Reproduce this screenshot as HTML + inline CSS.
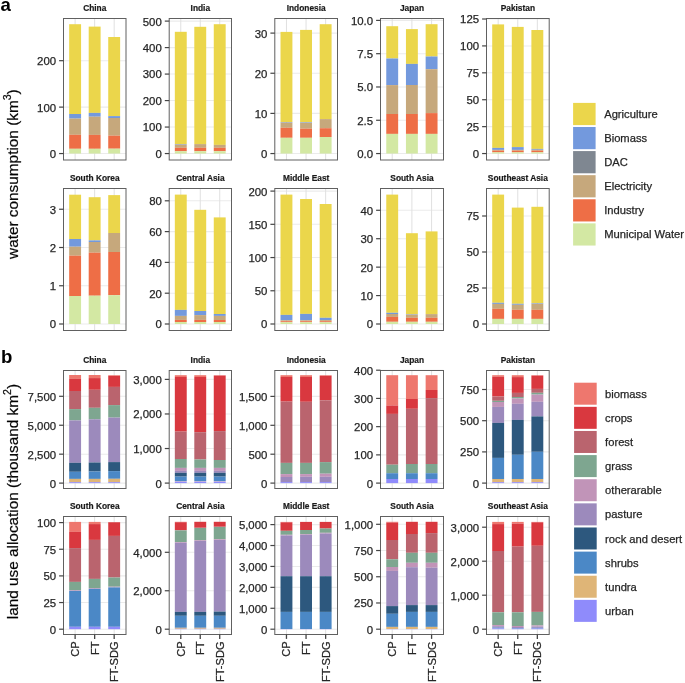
<!DOCTYPE html>
<html><head><meta charset="utf-8"><title>chart</title>
<style>
html,body{margin:0;padding:0;background:#fff;}
body{width:685px;height:683px;overflow:hidden;}
svg{display:block;will-change:transform;}
text{font-family:"Liberation Sans",sans-serif;}
.tk,.xl,.lg,.at{stroke:#262626;stroke-width:0.25px;}
.tt{stroke:#1A1A1A;stroke-width:0.2px;}
.tk{font-size:11.4px;fill:#262626;text-anchor:end;}
.tt{font-size:8.35px;font-weight:bold;fill:#1A1A1A;text-anchor:middle;}
.xl{font-size:11.1px;fill:#262626;text-anchor:end;}
.lg{font-size:11.2px;fill:#262626;}
.pl{font-size:18.6px;font-weight:bold;fill:#000;}
.at{font-size:15.35px;fill:#000;text-anchor:middle;}
.sup{font-size:10.6px;}
</style></head>
<body>
<svg width="685" height="683" viewBox="0 0 685 683">
<rect width="685" height="683" fill="#fff"/>
<line x1="63.5" y1="153.55" x2="126" y2="153.55" stroke="#EBEBEB" stroke-width="1.07"/>
<line x1="63.5" y1="107.12" x2="126" y2="107.12" stroke="#EBEBEB" stroke-width="1.07"/>
<line x1="63.5" y1="60.69" x2="126" y2="60.69" stroke="#EBEBEB" stroke-width="1.07"/>
<line x1="75.12" y1="18.5" x2="75.12" y2="160" stroke="#E0E0E0" stroke-width="1"/>
<line x1="94.65" y1="18.5" x2="94.65" y2="160" stroke="#E0E0E0" stroke-width="1"/>
<line x1="114.18" y1="18.5" x2="114.18" y2="160" stroke="#E0E0E0" stroke-width="1"/>
<rect x="69.17" y="24.2" width="11.9" height="89.8" fill="#EBD64B"/>
<rect x="69.17" y="114" width="11.9" height="4.6" fill="#7399DD"/>
<rect x="69.17" y="118.6" width="11.9" height="16.2" fill="#C6A87C"/>
<rect x="69.17" y="134.8" width="11.9" height="14" fill="#EE6E46"/>
<rect x="69.17" y="148.8" width="11.9" height="4.75" fill="#D3E8A3"/>
<rect x="88.7" y="26.6" width="11.9" height="86.3" fill="#EBD64B"/>
<rect x="88.7" y="112.9" width="11.9" height="3.8" fill="#7399DD"/>
<rect x="88.7" y="116.7" width="11.9" height="18.2" fill="#C6A87C"/>
<rect x="88.7" y="134.9" width="11.9" height="13.9" fill="#EE6E46"/>
<rect x="88.7" y="148.8" width="11.9" height="4.75" fill="#D3E8A3"/>
<rect x="108.23" y="37" width="11.9" height="79.1" fill="#EBD64B"/>
<rect x="108.23" y="116.1" width="11.9" height="1.9" fill="#7399DD"/>
<rect x="108.23" y="118" width="11.9" height="17.7" fill="#C6A87C"/>
<rect x="108.23" y="135.7" width="11.9" height="13" fill="#EE6E46"/>
<rect x="108.23" y="148.7" width="11.9" height="4.85" fill="#D3E8A3"/>
<rect x="63.5" y="18.5" width="62.5" height="141.5" fill="none" stroke="#606060" stroke-width="1.0"/>
<line x1="59.1" y1="153.55" x2="63.5" y2="153.55" stroke="#444444" stroke-width="1.2"/>
<text x="56.1" y="157.95" class="tk">0</text>
<line x1="59.1" y1="107.12" x2="63.5" y2="107.12" stroke="#444444" stroke-width="1.2"/>
<text x="56.1" y="111.52" class="tk">100</text>
<line x1="59.1" y1="60.69" x2="63.5" y2="60.69" stroke="#444444" stroke-width="1.2"/>
<text x="56.1" y="65.09" class="tk">200</text>
<text x="94.75" y="11" class="tt">China</text>
<line x1="169.2" y1="153.55" x2="231.5" y2="153.55" stroke="#EBEBEB" stroke-width="1.07"/>
<line x1="169.2" y1="127.06" x2="231.5" y2="127.06" stroke="#EBEBEB" stroke-width="1.07"/>
<line x1="169.2" y1="100.57" x2="231.5" y2="100.57" stroke="#EBEBEB" stroke-width="1.07"/>
<line x1="169.2" y1="74.08" x2="231.5" y2="74.08" stroke="#EBEBEB" stroke-width="1.07"/>
<line x1="169.2" y1="47.59" x2="231.5" y2="47.59" stroke="#EBEBEB" stroke-width="1.07"/>
<line x1="169.2" y1="21.1" x2="231.5" y2="21.1" stroke="#EBEBEB" stroke-width="1.07"/>
<line x1="180.78" y1="18.5" x2="180.78" y2="160" stroke="#E0E0E0" stroke-width="1"/>
<line x1="200.25" y1="18.5" x2="200.25" y2="160" stroke="#E0E0E0" stroke-width="1"/>
<line x1="219.72" y1="18.5" x2="219.72" y2="160" stroke="#E0E0E0" stroke-width="1"/>
<rect x="174.83" y="31.8" width="11.9" height="112.2" fill="#EBD64B"/>
<rect x="174.83" y="144" width="11.9" height="0.6" fill="#7399DD"/>
<rect x="174.83" y="144.6" width="11.9" height="3.2" fill="#C6A87C"/>
<rect x="174.83" y="147.8" width="11.9" height="3.4" fill="#EE6E46"/>
<rect x="174.83" y="151.2" width="11.9" height="2.35" fill="#D3E8A3"/>
<rect x="194.3" y="26.8" width="11.9" height="117.3" fill="#EBD64B"/>
<rect x="194.3" y="144.1" width="11.9" height="3.7" fill="#C6A87C"/>
<rect x="194.3" y="147.8" width="11.9" height="3.4" fill="#EE6E46"/>
<rect x="194.3" y="151.2" width="11.9" height="2.35" fill="#D3E8A3"/>
<rect x="213.77" y="24.2" width="11.9" height="120.7" fill="#EBD64B"/>
<rect x="213.77" y="144.9" width="11.9" height="2.9" fill="#C6A87C"/>
<rect x="213.77" y="147.8" width="11.9" height="3.4" fill="#EE6E46"/>
<rect x="213.77" y="151.2" width="11.9" height="2.35" fill="#D3E8A3"/>
<rect x="169.2" y="18.5" width="62.3" height="141.5" fill="none" stroke="#606060" stroke-width="1.0"/>
<line x1="164.8" y1="153.55" x2="169.2" y2="153.55" stroke="#444444" stroke-width="1.2"/>
<text x="161.8" y="157.95" class="tk">0</text>
<line x1="164.8" y1="127.06" x2="169.2" y2="127.06" stroke="#444444" stroke-width="1.2"/>
<text x="161.8" y="131.46" class="tk">100</text>
<line x1="164.8" y1="100.57" x2="169.2" y2="100.57" stroke="#444444" stroke-width="1.2"/>
<text x="161.8" y="104.97" class="tk">200</text>
<line x1="164.8" y1="74.08" x2="169.2" y2="74.08" stroke="#444444" stroke-width="1.2"/>
<text x="161.8" y="78.48" class="tk">300</text>
<line x1="164.8" y1="47.59" x2="169.2" y2="47.59" stroke="#444444" stroke-width="1.2"/>
<text x="161.8" y="51.99" class="tk">400</text>
<line x1="164.8" y1="21.1" x2="169.2" y2="21.1" stroke="#444444" stroke-width="1.2"/>
<text x="161.8" y="25.5" class="tk">500</text>
<text x="200.35" y="11" class="tt">India</text>
<line x1="274.8" y1="153.55" x2="337.5" y2="153.55" stroke="#EBEBEB" stroke-width="1.07"/>
<line x1="274.8" y1="113.4" x2="337.5" y2="113.4" stroke="#EBEBEB" stroke-width="1.07"/>
<line x1="274.8" y1="73.25" x2="337.5" y2="73.25" stroke="#EBEBEB" stroke-width="1.07"/>
<line x1="274.8" y1="33.1" x2="337.5" y2="33.1" stroke="#EBEBEB" stroke-width="1.07"/>
<line x1="286.46" y1="18.5" x2="286.46" y2="160" stroke="#E0E0E0" stroke-width="1"/>
<line x1="306.05" y1="18.5" x2="306.05" y2="160" stroke="#E0E0E0" stroke-width="1"/>
<line x1="325.64" y1="18.5" x2="325.64" y2="160" stroke="#E0E0E0" stroke-width="1"/>
<rect x="280.51" y="31.9" width="11.9" height="90.1" fill="#EBD64B"/>
<rect x="280.51" y="122" width="11.9" height="0.6" fill="#7399DD"/>
<rect x="280.51" y="122.6" width="11.9" height="5.2" fill="#C6A87C"/>
<rect x="280.51" y="127.8" width="11.9" height="10" fill="#EE6E46"/>
<rect x="280.51" y="137.8" width="11.9" height="15.75" fill="#D3E8A3"/>
<rect x="300.1" y="29.9" width="11.9" height="92.3" fill="#EBD64B"/>
<rect x="300.1" y="122.2" width="11.9" height="0.6" fill="#7399DD"/>
<rect x="300.1" y="122.8" width="11.9" height="5.9" fill="#C6A87C"/>
<rect x="300.1" y="128.7" width="11.9" height="9.1" fill="#EE6E46"/>
<rect x="300.1" y="137.8" width="11.9" height="15.75" fill="#D3E8A3"/>
<rect x="319.69" y="24.2" width="11.9" height="94.9" fill="#EBD64B"/>
<rect x="319.69" y="119.1" width="11.9" height="9.1" fill="#C6A87C"/>
<rect x="319.69" y="128.2" width="11.9" height="8.8" fill="#EE6E46"/>
<rect x="319.69" y="137" width="11.9" height="16.55" fill="#D3E8A3"/>
<rect x="274.8" y="18.5" width="62.7" height="141.5" fill="none" stroke="#606060" stroke-width="1.0"/>
<line x1="270.4" y1="153.55" x2="274.8" y2="153.55" stroke="#444444" stroke-width="1.2"/>
<text x="267.4" y="157.95" class="tk">0</text>
<line x1="270.4" y1="113.4" x2="274.8" y2="113.4" stroke="#444444" stroke-width="1.2"/>
<text x="267.4" y="117.8" class="tk">10</text>
<line x1="270.4" y1="73.25" x2="274.8" y2="73.25" stroke="#444444" stroke-width="1.2"/>
<text x="267.4" y="77.65" class="tk">20</text>
<line x1="270.4" y1="33.1" x2="274.8" y2="33.1" stroke="#444444" stroke-width="1.2"/>
<text x="267.4" y="37.5" class="tk">30</text>
<text x="306.15" y="11" class="tt">Indonesia</text>
<line x1="380.5" y1="153.55" x2="443.5" y2="153.55" stroke="#EBEBEB" stroke-width="1.07"/>
<line x1="380.5" y1="120.26" x2="443.5" y2="120.26" stroke="#EBEBEB" stroke-width="1.07"/>
<line x1="380.5" y1="86.98" x2="443.5" y2="86.98" stroke="#EBEBEB" stroke-width="1.07"/>
<line x1="380.5" y1="53.69" x2="443.5" y2="53.69" stroke="#EBEBEB" stroke-width="1.07"/>
<line x1="380.5" y1="20.4" x2="443.5" y2="20.4" stroke="#EBEBEB" stroke-width="1.07"/>
<line x1="392.21" y1="18.5" x2="392.21" y2="160" stroke="#E0E0E0" stroke-width="1"/>
<line x1="411.9" y1="18.5" x2="411.9" y2="160" stroke="#E0E0E0" stroke-width="1"/>
<line x1="431.59" y1="18.5" x2="431.59" y2="160" stroke="#E0E0E0" stroke-width="1"/>
<rect x="386.26" y="26.2" width="11.9" height="32.3" fill="#EBD64B"/>
<rect x="386.26" y="58.5" width="11.9" height="26.6" fill="#7399DD"/>
<rect x="386.26" y="85.1" width="11.9" height="28.9" fill="#C6A87C"/>
<rect x="386.26" y="114" width="11.9" height="19.9" fill="#EE6E46"/>
<rect x="386.26" y="133.9" width="11.9" height="19.65" fill="#D3E8A3"/>
<rect x="405.95" y="29.1" width="11.9" height="34.8" fill="#EBD64B"/>
<rect x="405.95" y="63.9" width="11.9" height="21.1" fill="#7399DD"/>
<rect x="405.95" y="85" width="11.9" height="29" fill="#C6A87C"/>
<rect x="405.95" y="114" width="11.9" height="19.9" fill="#EE6E46"/>
<rect x="405.95" y="133.9" width="11.9" height="19.65" fill="#D3E8A3"/>
<rect x="425.64" y="24.2" width="11.9" height="32.3" fill="#EBD64B"/>
<rect x="425.64" y="56.5" width="11.9" height="12.7" fill="#7399DD"/>
<rect x="425.64" y="69.2" width="11.9" height="43.9" fill="#C6A87C"/>
<rect x="425.64" y="113.1" width="11.9" height="20.8" fill="#EE6E46"/>
<rect x="425.64" y="133.9" width="11.9" height="19.65" fill="#D3E8A3"/>
<rect x="380.5" y="18.5" width="63" height="141.5" fill="none" stroke="#606060" stroke-width="1.0"/>
<line x1="376.1" y1="153.55" x2="380.5" y2="153.55" stroke="#444444" stroke-width="1.2"/>
<text x="373.1" y="157.95" class="tk">0.0</text>
<line x1="376.1" y1="120.26" x2="380.5" y2="120.26" stroke="#444444" stroke-width="1.2"/>
<text x="373.1" y="124.66" class="tk">2.5</text>
<line x1="376.1" y1="86.98" x2="380.5" y2="86.98" stroke="#444444" stroke-width="1.2"/>
<text x="373.1" y="91.38" class="tk">5.0</text>
<line x1="376.1" y1="53.69" x2="380.5" y2="53.69" stroke="#444444" stroke-width="1.2"/>
<text x="373.1" y="58.09" class="tk">7.5</text>
<line x1="376.1" y1="20.4" x2="380.5" y2="20.4" stroke="#444444" stroke-width="1.2"/>
<text x="373.1" y="24.8" class="tk">10.0</text>
<text x="412" y="11" class="tt">Japan</text>
<line x1="486.5" y1="153.55" x2="549.2" y2="153.55" stroke="#EBEBEB" stroke-width="1.07"/>
<line x1="486.5" y1="126.64" x2="549.2" y2="126.64" stroke="#EBEBEB" stroke-width="1.07"/>
<line x1="486.5" y1="99.73" x2="549.2" y2="99.73" stroke="#EBEBEB" stroke-width="1.07"/>
<line x1="486.5" y1="72.82" x2="549.2" y2="72.82" stroke="#EBEBEB" stroke-width="1.07"/>
<line x1="486.5" y1="45.91" x2="549.2" y2="45.91" stroke="#EBEBEB" stroke-width="1.07"/>
<line x1="486.5" y1="19" x2="549.2" y2="19" stroke="#EBEBEB" stroke-width="1.07"/>
<line x1="498.16" y1="18.5" x2="498.16" y2="160" stroke="#E0E0E0" stroke-width="1"/>
<line x1="517.75" y1="18.5" x2="517.75" y2="160" stroke="#E0E0E0" stroke-width="1"/>
<line x1="537.34" y1="18.5" x2="537.34" y2="160" stroke="#E0E0E0" stroke-width="1"/>
<rect x="492.21" y="24.4" width="11.9" height="123.5" fill="#EBD64B"/>
<rect x="492.21" y="147.9" width="11.9" height="2" fill="#7399DD"/>
<rect x="492.21" y="149.9" width="11.9" height="0.8" fill="#C6A87C"/>
<rect x="492.21" y="150.7" width="11.9" height="1.6" fill="#EE6E46"/>
<rect x="492.21" y="152.3" width="11.9" height="1.25" fill="#D3E8A3"/>
<rect x="511.8" y="26.9" width="11.9" height="120.2" fill="#EBD64B"/>
<rect x="511.8" y="147.1" width="11.9" height="2.8" fill="#7399DD"/>
<rect x="511.8" y="149.9" width="11.9" height="0.8" fill="#C6A87C"/>
<rect x="511.8" y="150.7" width="11.9" height="1.6" fill="#EE6E46"/>
<rect x="511.8" y="152.3" width="11.9" height="1.25" fill="#D3E8A3"/>
<rect x="531.39" y="30" width="11.9" height="118.9" fill="#EBD64B"/>
<rect x="531.39" y="148.9" width="11.9" height="0.9" fill="#7399DD"/>
<rect x="531.39" y="149.8" width="11.9" height="0.9" fill="#C6A87C"/>
<rect x="531.39" y="150.7" width="11.9" height="1.6" fill="#EE6E46"/>
<rect x="531.39" y="152.3" width="11.9" height="1.25" fill="#D3E8A3"/>
<rect x="486.5" y="18.5" width="62.7" height="141.5" fill="none" stroke="#606060" stroke-width="1.0"/>
<line x1="482.1" y1="153.55" x2="486.5" y2="153.55" stroke="#444444" stroke-width="1.2"/>
<text x="479.1" y="157.95" class="tk">0</text>
<line x1="482.1" y1="126.64" x2="486.5" y2="126.64" stroke="#444444" stroke-width="1.2"/>
<text x="479.1" y="131.04" class="tk">25</text>
<line x1="482.1" y1="99.73" x2="486.5" y2="99.73" stroke="#444444" stroke-width="1.2"/>
<text x="479.1" y="104.13" class="tk">50</text>
<line x1="482.1" y1="72.82" x2="486.5" y2="72.82" stroke="#444444" stroke-width="1.2"/>
<text x="479.1" y="77.22" class="tk">75</text>
<line x1="482.1" y1="45.91" x2="486.5" y2="45.91" stroke="#444444" stroke-width="1.2"/>
<text x="479.1" y="50.31" class="tk">100</text>
<line x1="482.1" y1="19" x2="486.5" y2="19" stroke="#444444" stroke-width="1.2"/>
<text x="479.1" y="23.4" class="tk">125</text>
<text x="517.85" y="11" class="tt">Pakistan</text>
<line x1="63.5" y1="324" x2="126" y2="324" stroke="#EBEBEB" stroke-width="1.07"/>
<line x1="63.5" y1="285.75" x2="126" y2="285.75" stroke="#EBEBEB" stroke-width="1.07"/>
<line x1="63.5" y1="247.5" x2="126" y2="247.5" stroke="#EBEBEB" stroke-width="1.07"/>
<line x1="63.5" y1="209.25" x2="126" y2="209.25" stroke="#EBEBEB" stroke-width="1.07"/>
<line x1="75.12" y1="188.5" x2="75.12" y2="330.5" stroke="#E0E0E0" stroke-width="1"/>
<line x1="94.65" y1="188.5" x2="94.65" y2="330.5" stroke="#E0E0E0" stroke-width="1"/>
<line x1="114.18" y1="188.5" x2="114.18" y2="330.5" stroke="#E0E0E0" stroke-width="1"/>
<rect x="69.17" y="194.7" width="11.9" height="44.3" fill="#EBD64B"/>
<rect x="69.17" y="239" width="11.9" height="7.7" fill="#7399DD"/>
<rect x="69.17" y="246.7" width="11.9" height="9" fill="#C6A87C"/>
<rect x="69.17" y="255.7" width="11.9" height="40.3" fill="#EE6E46"/>
<rect x="69.17" y="296" width="11.9" height="28" fill="#D3E8A3"/>
<rect x="88.7" y="197.2" width="11.9" height="43.2" fill="#EBD64B"/>
<rect x="88.7" y="240.4" width="11.9" height="1.6" fill="#7399DD"/>
<rect x="88.7" y="242" width="11.9" height="10.7" fill="#C6A87C"/>
<rect x="88.7" y="252.7" width="11.9" height="43" fill="#EE6E46"/>
<rect x="88.7" y="295.7" width="11.9" height="28.3" fill="#D3E8A3"/>
<rect x="108.23" y="195.1" width="11.9" height="37.9" fill="#EBD64B"/>
<rect x="108.23" y="233" width="11.9" height="19" fill="#C6A87C"/>
<rect x="108.23" y="252" width="11.9" height="43.2" fill="#EE6E46"/>
<rect x="108.23" y="295.2" width="11.9" height="28.8" fill="#D3E8A3"/>
<rect x="63.5" y="188.5" width="62.5" height="142" fill="none" stroke="#606060" stroke-width="1.0"/>
<line x1="59.1" y1="324" x2="63.5" y2="324" stroke="#444444" stroke-width="1.2"/>
<text x="56.1" y="328.4" class="tk">0</text>
<line x1="59.1" y1="285.75" x2="63.5" y2="285.75" stroke="#444444" stroke-width="1.2"/>
<text x="56.1" y="290.15" class="tk">1</text>
<line x1="59.1" y1="247.5" x2="63.5" y2="247.5" stroke="#444444" stroke-width="1.2"/>
<text x="56.1" y="251.9" class="tk">2</text>
<line x1="59.1" y1="209.25" x2="63.5" y2="209.25" stroke="#444444" stroke-width="1.2"/>
<text x="56.1" y="213.65" class="tk">3</text>
<text x="94.75" y="181" class="tt">South Korea</text>
<line x1="169.2" y1="324" x2="231.5" y2="324" stroke="#EBEBEB" stroke-width="1.07"/>
<line x1="169.2" y1="293.2" x2="231.5" y2="293.2" stroke="#EBEBEB" stroke-width="1.07"/>
<line x1="169.2" y1="262.4" x2="231.5" y2="262.4" stroke="#EBEBEB" stroke-width="1.07"/>
<line x1="169.2" y1="231.6" x2="231.5" y2="231.6" stroke="#EBEBEB" stroke-width="1.07"/>
<line x1="169.2" y1="200.8" x2="231.5" y2="200.8" stroke="#EBEBEB" stroke-width="1.07"/>
<line x1="180.78" y1="188.5" x2="180.78" y2="330.5" stroke="#E0E0E0" stroke-width="1"/>
<line x1="200.25" y1="188.5" x2="200.25" y2="330.5" stroke="#E0E0E0" stroke-width="1"/>
<line x1="219.72" y1="188.5" x2="219.72" y2="330.5" stroke="#E0E0E0" stroke-width="1"/>
<rect x="174.83" y="194.6" width="11.9" height="115.3" fill="#EBD64B"/>
<rect x="174.83" y="309.9" width="11.9" height="6" fill="#7399DD"/>
<rect x="174.83" y="315.9" width="11.9" height="4" fill="#C6A87C"/>
<rect x="174.83" y="319.9" width="11.9" height="2.1" fill="#EE6E46"/>
<rect x="174.83" y="322" width="11.9" height="2" fill="#D3E8A3"/>
<rect x="194.3" y="209.8" width="11.9" height="101.2" fill="#EBD64B"/>
<rect x="194.3" y="311" width="11.9" height="4.1" fill="#7399DD"/>
<rect x="194.3" y="315.1" width="11.9" height="4.8" fill="#C6A87C"/>
<rect x="194.3" y="319.9" width="11.9" height="2.1" fill="#EE6E46"/>
<rect x="194.3" y="322" width="11.9" height="2" fill="#D3E8A3"/>
<rect x="213.77" y="217.4" width="11.9" height="96.6" fill="#EBD64B"/>
<rect x="213.77" y="314" width="11.9" height="1.9" fill="#7399DD"/>
<rect x="213.77" y="315.9" width="11.9" height="4.1" fill="#C6A87C"/>
<rect x="213.77" y="320" width="11.9" height="2" fill="#EE6E46"/>
<rect x="213.77" y="322" width="11.9" height="2" fill="#D3E8A3"/>
<rect x="169.2" y="188.5" width="62.3" height="142" fill="none" stroke="#606060" stroke-width="1.0"/>
<line x1="164.8" y1="324" x2="169.2" y2="324" stroke="#444444" stroke-width="1.2"/>
<text x="161.8" y="328.4" class="tk">0</text>
<line x1="164.8" y1="293.2" x2="169.2" y2="293.2" stroke="#444444" stroke-width="1.2"/>
<text x="161.8" y="297.6" class="tk">20</text>
<line x1="164.8" y1="262.4" x2="169.2" y2="262.4" stroke="#444444" stroke-width="1.2"/>
<text x="161.8" y="266.8" class="tk">40</text>
<line x1="164.8" y1="231.6" x2="169.2" y2="231.6" stroke="#444444" stroke-width="1.2"/>
<text x="161.8" y="236" class="tk">60</text>
<line x1="164.8" y1="200.8" x2="169.2" y2="200.8" stroke="#444444" stroke-width="1.2"/>
<text x="161.8" y="205.2" class="tk">80</text>
<text x="200.35" y="181" class="tt">Central Asia</text>
<line x1="274.8" y1="324" x2="337.5" y2="324" stroke="#EBEBEB" stroke-width="1.07"/>
<line x1="274.8" y1="290.77" x2="337.5" y2="290.77" stroke="#EBEBEB" stroke-width="1.07"/>
<line x1="274.8" y1="257.55" x2="337.5" y2="257.55" stroke="#EBEBEB" stroke-width="1.07"/>
<line x1="274.8" y1="224.32" x2="337.5" y2="224.32" stroke="#EBEBEB" stroke-width="1.07"/>
<line x1="274.8" y1="191.1" x2="337.5" y2="191.1" stroke="#EBEBEB" stroke-width="1.07"/>
<line x1="286.46" y1="188.5" x2="286.46" y2="330.5" stroke="#E0E0E0" stroke-width="1"/>
<line x1="306.05" y1="188.5" x2="306.05" y2="330.5" stroke="#E0E0E0" stroke-width="1"/>
<line x1="325.64" y1="188.5" x2="325.64" y2="330.5" stroke="#E0E0E0" stroke-width="1"/>
<rect x="280.51" y="194.6" width="11.9" height="120.3" fill="#EBD64B"/>
<rect x="280.51" y="314.9" width="11.9" height="5.4" fill="#7399DD"/>
<rect x="280.51" y="320.3" width="11.9" height="0.9" fill="#C6A87C"/>
<rect x="280.51" y="321.2" width="11.9" height="1" fill="#EE6E46"/>
<rect x="280.51" y="322.2" width="11.9" height="1.8" fill="#D3E8A3"/>
<rect x="300.1" y="199" width="11.9" height="114.9" fill="#EBD64B"/>
<rect x="300.1" y="313.9" width="11.9" height="6.4" fill="#7399DD"/>
<rect x="300.1" y="320.3" width="11.9" height="0.9" fill="#C6A87C"/>
<rect x="300.1" y="321.2" width="11.9" height="1" fill="#EE6E46"/>
<rect x="300.1" y="322.2" width="11.9" height="1.8" fill="#D3E8A3"/>
<rect x="319.69" y="204" width="11.9" height="113.8" fill="#EBD64B"/>
<rect x="319.69" y="317.8" width="11.9" height="2.3" fill="#7399DD"/>
<rect x="319.69" y="320.1" width="11.9" height="1.1" fill="#C6A87C"/>
<rect x="319.69" y="321.2" width="11.9" height="1" fill="#EE6E46"/>
<rect x="319.69" y="322.2" width="11.9" height="1.8" fill="#D3E8A3"/>
<rect x="274.8" y="188.5" width="62.7" height="142" fill="none" stroke="#606060" stroke-width="1.0"/>
<line x1="270.4" y1="324" x2="274.8" y2="324" stroke="#444444" stroke-width="1.2"/>
<text x="267.4" y="328.4" class="tk">0</text>
<line x1="270.4" y1="290.77" x2="274.8" y2="290.77" stroke="#444444" stroke-width="1.2"/>
<text x="267.4" y="295.17" class="tk">50</text>
<line x1="270.4" y1="257.55" x2="274.8" y2="257.55" stroke="#444444" stroke-width="1.2"/>
<text x="267.4" y="261.95" class="tk">100</text>
<line x1="270.4" y1="224.32" x2="274.8" y2="224.32" stroke="#444444" stroke-width="1.2"/>
<text x="267.4" y="228.72" class="tk">150</text>
<line x1="270.4" y1="191.1" x2="274.8" y2="191.1" stroke="#444444" stroke-width="1.2"/>
<text x="267.4" y="195.5" class="tk">200</text>
<text x="306.15" y="181" class="tt">Middle East</text>
<line x1="380.5" y1="324" x2="443.5" y2="324" stroke="#EBEBEB" stroke-width="1.07"/>
<line x1="380.5" y1="295.57" x2="443.5" y2="295.57" stroke="#EBEBEB" stroke-width="1.07"/>
<line x1="380.5" y1="267.14" x2="443.5" y2="267.14" stroke="#EBEBEB" stroke-width="1.07"/>
<line x1="380.5" y1="238.71" x2="443.5" y2="238.71" stroke="#EBEBEB" stroke-width="1.07"/>
<line x1="380.5" y1="210.28" x2="443.5" y2="210.28" stroke="#EBEBEB" stroke-width="1.07"/>
<line x1="392.21" y1="188.5" x2="392.21" y2="330.5" stroke="#E0E0E0" stroke-width="1"/>
<line x1="411.9" y1="188.5" x2="411.9" y2="330.5" stroke="#E0E0E0" stroke-width="1"/>
<line x1="431.59" y1="188.5" x2="431.59" y2="330.5" stroke="#E0E0E0" stroke-width="1"/>
<rect x="386.26" y="194.6" width="11.9" height="118.2" fill="#EBD64B"/>
<rect x="386.26" y="312.8" width="11.9" height="1.2" fill="#7399DD"/>
<rect x="386.26" y="314" width="11.9" height="2.9" fill="#C6A87C"/>
<rect x="386.26" y="316.9" width="11.9" height="4.9" fill="#EE6E46"/>
<rect x="386.26" y="321.8" width="11.9" height="2.2" fill="#D3E8A3"/>
<rect x="405.95" y="233.2" width="11.9" height="80.9" fill="#EBD64B"/>
<rect x="405.95" y="314.1" width="11.9" height="0.5" fill="#7399DD"/>
<rect x="405.95" y="314.6" width="11.9" height="3.2" fill="#C6A87C"/>
<rect x="405.95" y="317.8" width="11.9" height="4" fill="#EE6E46"/>
<rect x="405.95" y="321.8" width="11.9" height="2.2" fill="#D3E8A3"/>
<rect x="425.64" y="231.4" width="11.9" height="82.7" fill="#EBD64B"/>
<rect x="425.64" y="314.1" width="11.9" height="3.7" fill="#C6A87C"/>
<rect x="425.64" y="317.8" width="11.9" height="4" fill="#EE6E46"/>
<rect x="425.64" y="321.8" width="11.9" height="2.2" fill="#D3E8A3"/>
<rect x="380.5" y="188.5" width="63" height="142" fill="none" stroke="#606060" stroke-width="1.0"/>
<line x1="376.1" y1="324" x2="380.5" y2="324" stroke="#444444" stroke-width="1.2"/>
<text x="373.1" y="328.4" class="tk">0</text>
<line x1="376.1" y1="295.57" x2="380.5" y2="295.57" stroke="#444444" stroke-width="1.2"/>
<text x="373.1" y="299.97" class="tk">10</text>
<line x1="376.1" y1="267.14" x2="380.5" y2="267.14" stroke="#444444" stroke-width="1.2"/>
<text x="373.1" y="271.54" class="tk">20</text>
<line x1="376.1" y1="238.71" x2="380.5" y2="238.71" stroke="#444444" stroke-width="1.2"/>
<text x="373.1" y="243.11" class="tk">30</text>
<line x1="376.1" y1="210.28" x2="380.5" y2="210.28" stroke="#444444" stroke-width="1.2"/>
<text x="373.1" y="214.68" class="tk">40</text>
<text x="412" y="181" class="tt">South Asia</text>
<line x1="486.5" y1="324" x2="549.2" y2="324" stroke="#EBEBEB" stroke-width="1.07"/>
<line x1="486.5" y1="288" x2="549.2" y2="288" stroke="#EBEBEB" stroke-width="1.07"/>
<line x1="486.5" y1="252" x2="549.2" y2="252" stroke="#EBEBEB" stroke-width="1.07"/>
<line x1="486.5" y1="216" x2="549.2" y2="216" stroke="#EBEBEB" stroke-width="1.07"/>
<line x1="498.16" y1="188.5" x2="498.16" y2="330.5" stroke="#E0E0E0" stroke-width="1"/>
<line x1="517.75" y1="188.5" x2="517.75" y2="330.5" stroke="#E0E0E0" stroke-width="1"/>
<line x1="537.34" y1="188.5" x2="537.34" y2="330.5" stroke="#E0E0E0" stroke-width="1"/>
<rect x="492.21" y="194.6" width="11.9" height="108.2" fill="#EBD64B"/>
<rect x="492.21" y="302.8" width="11.9" height="1.1" fill="#7399DD"/>
<rect x="492.21" y="303.9" width="11.9" height="4.9" fill="#C6A87C"/>
<rect x="492.21" y="308.8" width="11.9" height="10.1" fill="#EE6E46"/>
<rect x="492.21" y="318.9" width="11.9" height="5.1" fill="#D3E8A3"/>
<rect x="511.8" y="207.6" width="11.9" height="96.2" fill="#EBD64B"/>
<rect x="511.8" y="303.8" width="11.9" height="1" fill="#7399DD"/>
<rect x="511.8" y="304.8" width="11.9" height="5" fill="#C6A87C"/>
<rect x="511.8" y="309.8" width="11.9" height="9.1" fill="#EE6E46"/>
<rect x="511.8" y="318.9" width="11.9" height="5.1" fill="#D3E8A3"/>
<rect x="531.39" y="206.8" width="11.9" height="96.4" fill="#EBD64B"/>
<rect x="531.39" y="303.2" width="11.9" height="0.6" fill="#7399DD"/>
<rect x="531.39" y="303.8" width="11.9" height="6" fill="#C6A87C"/>
<rect x="531.39" y="309.8" width="11.9" height="9.1" fill="#EE6E46"/>
<rect x="531.39" y="318.9" width="11.9" height="5.1" fill="#D3E8A3"/>
<rect x="486.5" y="188.5" width="62.7" height="142" fill="none" stroke="#606060" stroke-width="1.0"/>
<line x1="482.1" y1="324" x2="486.5" y2="324" stroke="#444444" stroke-width="1.2"/>
<text x="479.1" y="328.4" class="tk">0</text>
<line x1="482.1" y1="288" x2="486.5" y2="288" stroke="#444444" stroke-width="1.2"/>
<text x="479.1" y="292.4" class="tk">25</text>
<line x1="482.1" y1="252" x2="486.5" y2="252" stroke="#444444" stroke-width="1.2"/>
<text x="479.1" y="256.4" class="tk">50</text>
<line x1="482.1" y1="216" x2="486.5" y2="216" stroke="#444444" stroke-width="1.2"/>
<text x="479.1" y="220.4" class="tk">75</text>
<text x="517.85" y="181" class="tt">Southeast Asia</text>
<line x1="63.5" y1="483.1" x2="126" y2="483.1" stroke="#EBEBEB" stroke-width="1.07"/>
<line x1="63.5" y1="454.17" x2="126" y2="454.17" stroke="#EBEBEB" stroke-width="1.07"/>
<line x1="63.5" y1="425.24" x2="126" y2="425.24" stroke="#EBEBEB" stroke-width="1.07"/>
<line x1="63.5" y1="396.3" x2="126" y2="396.3" stroke="#EBEBEB" stroke-width="1.07"/>
<line x1="75.12" y1="370.5" x2="75.12" y2="488.5" stroke="#E0E0E0" stroke-width="1"/>
<line x1="94.65" y1="370.5" x2="94.65" y2="488.5" stroke="#E0E0E0" stroke-width="1"/>
<line x1="114.18" y1="370.5" x2="114.18" y2="488.5" stroke="#E0E0E0" stroke-width="1"/>
<rect x="69.17" y="375" width="11.9" height="3.9" fill="#EE776E"/>
<rect x="69.17" y="378.9" width="11.9" height="12.1" fill="#D9383F"/>
<rect x="69.17" y="391" width="11.9" height="18.1" fill="#BA646E"/>
<rect x="69.17" y="409.1" width="11.9" height="11.3" fill="#7EA690"/>
<rect x="69.17" y="420.4" width="11.9" height="42.4" fill="#9C8ABC"/>
<rect x="69.17" y="462.8" width="11.9" height="9" fill="#2D587E"/>
<rect x="69.17" y="471.8" width="11.9" height="7.1" fill="#4B88C6"/>
<rect x="69.17" y="478.9" width="11.9" height="3.3" fill="#DFB577"/>
<rect x="69.17" y="482.2" width="11.9" height="0.9" fill="#8F8BFB"/>
<rect x="88.7" y="375" width="11.9" height="3.1" fill="#EE776E"/>
<rect x="88.7" y="378.1" width="11.9" height="11.7" fill="#D9383F"/>
<rect x="88.7" y="389.8" width="11.9" height="18" fill="#BA646E"/>
<rect x="88.7" y="407.8" width="11.9" height="11.5" fill="#7EA690"/>
<rect x="88.7" y="419.3" width="11.9" height="43.2" fill="#9C8ABC"/>
<rect x="88.7" y="462.5" width="11.9" height="9" fill="#2D587E"/>
<rect x="88.7" y="471.5" width="11.9" height="7.4" fill="#4B88C6"/>
<rect x="88.7" y="478.9" width="11.9" height="3.3" fill="#DFB577"/>
<rect x="88.7" y="482.2" width="11.9" height="0.9" fill="#8F8BFB"/>
<rect x="108.23" y="375.2" width="11.9" height="0.7" fill="#EE776E"/>
<rect x="108.23" y="375.9" width="11.9" height="11" fill="#D9383F"/>
<rect x="108.23" y="386.9" width="11.9" height="18.2" fill="#BA646E"/>
<rect x="108.23" y="405.1" width="11.9" height="12.5" fill="#7EA690"/>
<rect x="108.23" y="417.6" width="11.9" height="44.5" fill="#9C8ABC"/>
<rect x="108.23" y="462.1" width="11.9" height="9" fill="#2D587E"/>
<rect x="108.23" y="471.1" width="11.9" height="7.7" fill="#4B88C6"/>
<rect x="108.23" y="478.8" width="11.9" height="3.4" fill="#DFB577"/>
<rect x="108.23" y="482.2" width="11.9" height="0.9" fill="#8F8BFB"/>
<rect x="63.5" y="370.5" width="62.5" height="118" fill="none" stroke="#606060" stroke-width="1.0"/>
<line x1="59.1" y1="483.1" x2="63.5" y2="483.1" stroke="#444444" stroke-width="1.2"/>
<text x="56.1" y="487.5" class="tk">0</text>
<line x1="59.1" y1="454.17" x2="63.5" y2="454.17" stroke="#444444" stroke-width="1.2"/>
<text x="56.1" y="458.57" class="tk">2,500</text>
<line x1="59.1" y1="425.24" x2="63.5" y2="425.24" stroke="#444444" stroke-width="1.2"/>
<text x="56.1" y="429.63" class="tk">5,000</text>
<line x1="59.1" y1="396.3" x2="63.5" y2="396.3" stroke="#444444" stroke-width="1.2"/>
<text x="56.1" y="400.7" class="tk">7,500</text>
<text x="94.75" y="363" class="tt">China</text>
<line x1="169.2" y1="483.1" x2="231.5" y2="483.1" stroke="#EBEBEB" stroke-width="1.07"/>
<line x1="169.2" y1="448.53" x2="231.5" y2="448.53" stroke="#EBEBEB" stroke-width="1.07"/>
<line x1="169.2" y1="413.97" x2="231.5" y2="413.97" stroke="#EBEBEB" stroke-width="1.07"/>
<line x1="169.2" y1="379.4" x2="231.5" y2="379.4" stroke="#EBEBEB" stroke-width="1.07"/>
<line x1="180.78" y1="370.5" x2="180.78" y2="488.5" stroke="#E0E0E0" stroke-width="1"/>
<line x1="200.25" y1="370.5" x2="200.25" y2="488.5" stroke="#E0E0E0" stroke-width="1"/>
<line x1="219.72" y1="370.5" x2="219.72" y2="488.5" stroke="#E0E0E0" stroke-width="1"/>
<rect x="174.83" y="375.2" width="11.9" height="1.8" fill="#EE776E"/>
<rect x="174.83" y="377" width="11.9" height="54.6" fill="#D9383F"/>
<rect x="174.83" y="431.6" width="11.9" height="27.4" fill="#BA646E"/>
<rect x="174.83" y="459" width="11.9" height="8.9" fill="#7EA690"/>
<rect x="174.83" y="467.9" width="11.9" height="3" fill="#C194B8"/>
<rect x="174.83" y="470.9" width="11.9" height="1.9" fill="#9C8ABC"/>
<rect x="174.83" y="472.8" width="11.9" height="3.8" fill="#2D587E"/>
<rect x="174.83" y="476.6" width="11.9" height="4.4" fill="#4B88C6"/>
<rect x="174.83" y="481" width="11.9" height="0.5" fill="#DFB577"/>
<rect x="174.83" y="481.5" width="11.9" height="1.6" fill="#8F8BFB"/>
<rect x="194.3" y="375.2" width="11.9" height="1.8" fill="#EE776E"/>
<rect x="194.3" y="377" width="11.9" height="55.2" fill="#D9383F"/>
<rect x="194.3" y="432.2" width="11.9" height="27.3" fill="#BA646E"/>
<rect x="194.3" y="459.5" width="11.9" height="8.4" fill="#7EA690"/>
<rect x="194.3" y="467.9" width="11.9" height="3" fill="#C194B8"/>
<rect x="194.3" y="470.9" width="11.9" height="1.9" fill="#9C8ABC"/>
<rect x="194.3" y="472.8" width="11.9" height="3.8" fill="#2D587E"/>
<rect x="194.3" y="476.6" width="11.9" height="4.4" fill="#4B88C6"/>
<rect x="194.3" y="481" width="11.9" height="0.5" fill="#DFB577"/>
<rect x="194.3" y="481.5" width="11.9" height="1.6" fill="#8F8BFB"/>
<rect x="213.77" y="375.2" width="11.9" height="0.4" fill="#EE776E"/>
<rect x="213.77" y="375.6" width="11.9" height="55.5" fill="#D9383F"/>
<rect x="213.77" y="431.1" width="11.9" height="28.9" fill="#BA646E"/>
<rect x="213.77" y="460" width="11.9" height="7.9" fill="#7EA690"/>
<rect x="213.77" y="467.9" width="11.9" height="3" fill="#C194B8"/>
<rect x="213.77" y="470.9" width="11.9" height="1.9" fill="#9C8ABC"/>
<rect x="213.77" y="472.8" width="11.9" height="3.8" fill="#2D587E"/>
<rect x="213.77" y="476.6" width="11.9" height="4.4" fill="#4B88C6"/>
<rect x="213.77" y="481" width="11.9" height="0.5" fill="#DFB577"/>
<rect x="213.77" y="481.5" width="11.9" height="1.6" fill="#8F8BFB"/>
<rect x="169.2" y="370.5" width="62.3" height="118" fill="none" stroke="#606060" stroke-width="1.0"/>
<line x1="164.8" y1="483.1" x2="169.2" y2="483.1" stroke="#444444" stroke-width="1.2"/>
<text x="161.8" y="487.5" class="tk">0</text>
<line x1="164.8" y1="448.53" x2="169.2" y2="448.53" stroke="#444444" stroke-width="1.2"/>
<text x="161.8" y="452.93" class="tk">1,000</text>
<line x1="164.8" y1="413.97" x2="169.2" y2="413.97" stroke="#444444" stroke-width="1.2"/>
<text x="161.8" y="418.37" class="tk">2,000</text>
<line x1="164.8" y1="379.4" x2="169.2" y2="379.4" stroke="#444444" stroke-width="1.2"/>
<text x="161.8" y="383.8" class="tk">3,000</text>
<text x="200.35" y="363" class="tt">India</text>
<line x1="274.8" y1="483.1" x2="337.5" y2="483.1" stroke="#EBEBEB" stroke-width="1.07"/>
<line x1="274.8" y1="454.2" x2="337.5" y2="454.2" stroke="#EBEBEB" stroke-width="1.07"/>
<line x1="274.8" y1="425.3" x2="337.5" y2="425.3" stroke="#EBEBEB" stroke-width="1.07"/>
<line x1="274.8" y1="396.4" x2="337.5" y2="396.4" stroke="#EBEBEB" stroke-width="1.07"/>
<line x1="286.46" y1="370.5" x2="286.46" y2="488.5" stroke="#E0E0E0" stroke-width="1"/>
<line x1="306.05" y1="370.5" x2="306.05" y2="488.5" stroke="#E0E0E0" stroke-width="1"/>
<line x1="325.64" y1="370.5" x2="325.64" y2="488.5" stroke="#E0E0E0" stroke-width="1"/>
<rect x="280.51" y="375.2" width="11.9" height="1.8" fill="#EE776E"/>
<rect x="280.51" y="377" width="11.9" height="24.6" fill="#D9383F"/>
<rect x="280.51" y="401.6" width="11.9" height="61.3" fill="#BA646E"/>
<rect x="280.51" y="462.9" width="11.9" height="11.2" fill="#7EA690"/>
<rect x="280.51" y="474.1" width="11.9" height="2.9" fill="#C194B8"/>
<rect x="280.51" y="477" width="11.9" height="5.1" fill="#9C8ABC"/>
<rect x="280.51" y="482.1" width="11.9" height="1" fill="#8F8BFB"/>
<rect x="300.1" y="375.2" width="11.9" height="1.8" fill="#EE776E"/>
<rect x="300.1" y="377" width="11.9" height="24.8" fill="#D9383F"/>
<rect x="300.1" y="401.8" width="11.9" height="61.1" fill="#BA646E"/>
<rect x="300.1" y="462.9" width="11.9" height="11.2" fill="#7EA690"/>
<rect x="300.1" y="474.1" width="11.9" height="2.7" fill="#C194B8"/>
<rect x="300.1" y="476.8" width="11.9" height="5.3" fill="#9C8ABC"/>
<rect x="300.1" y="482.1" width="11.9" height="1" fill="#8F8BFB"/>
<rect x="319.69" y="375.2" width="11.9" height="0.6" fill="#EE776E"/>
<rect x="319.69" y="375.8" width="11.9" height="24.5" fill="#D9383F"/>
<rect x="319.69" y="400.3" width="11.9" height="61.8" fill="#BA646E"/>
<rect x="319.69" y="462.1" width="11.9" height="11.6" fill="#7EA690"/>
<rect x="319.69" y="473.7" width="11.9" height="3.1" fill="#C194B8"/>
<rect x="319.69" y="476.8" width="11.9" height="5.3" fill="#9C8ABC"/>
<rect x="319.69" y="482.1" width="11.9" height="1" fill="#8F8BFB"/>
<rect x="274.8" y="370.5" width="62.7" height="118" fill="none" stroke="#606060" stroke-width="1.0"/>
<line x1="270.4" y1="483.1" x2="274.8" y2="483.1" stroke="#444444" stroke-width="1.2"/>
<text x="267.4" y="487.5" class="tk">0</text>
<line x1="270.4" y1="454.2" x2="274.8" y2="454.2" stroke="#444444" stroke-width="1.2"/>
<text x="267.4" y="458.6" class="tk">500</text>
<line x1="270.4" y1="425.3" x2="274.8" y2="425.3" stroke="#444444" stroke-width="1.2"/>
<text x="267.4" y="429.7" class="tk">1,000</text>
<line x1="270.4" y1="396.4" x2="274.8" y2="396.4" stroke="#444444" stroke-width="1.2"/>
<text x="267.4" y="400.8" class="tk">1,500</text>
<text x="306.15" y="363" class="tt">Indonesia</text>
<line x1="380.5" y1="483.1" x2="443.5" y2="483.1" stroke="#EBEBEB" stroke-width="1.07"/>
<line x1="380.5" y1="454.88" x2="443.5" y2="454.88" stroke="#EBEBEB" stroke-width="1.07"/>
<line x1="380.5" y1="426.65" x2="443.5" y2="426.65" stroke="#EBEBEB" stroke-width="1.07"/>
<line x1="380.5" y1="398.43" x2="443.5" y2="398.43" stroke="#EBEBEB" stroke-width="1.07"/>
<line x1="380.5" y1="370.2" x2="443.5" y2="370.2" stroke="#EBEBEB" stroke-width="1.07"/>
<line x1="392.21" y1="370.5" x2="392.21" y2="488.5" stroke="#E0E0E0" stroke-width="1"/>
<line x1="411.9" y1="370.5" x2="411.9" y2="488.5" stroke="#E0E0E0" stroke-width="1"/>
<line x1="431.59" y1="370.5" x2="431.59" y2="488.5" stroke="#E0E0E0" stroke-width="1"/>
<rect x="386.26" y="375.2" width="11.9" height="30.3" fill="#EE776E"/>
<rect x="386.26" y="405.5" width="11.9" height="8.4" fill="#D9383F"/>
<rect x="386.26" y="413.9" width="11.9" height="50.8" fill="#BA646E"/>
<rect x="386.26" y="464.7" width="11.9" height="8.5" fill="#7EA690"/>
<rect x="386.26" y="473.2" width="11.9" height="5.8" fill="#4B88C6"/>
<rect x="386.26" y="479" width="11.9" height="4.1" fill="#8F8BFB"/>
<rect x="405.95" y="375.2" width="11.9" height="23.8" fill="#EE776E"/>
<rect x="405.95" y="399" width="11.9" height="9.8" fill="#D9383F"/>
<rect x="405.95" y="408.8" width="11.9" height="55.2" fill="#BA646E"/>
<rect x="405.95" y="464" width="11.9" height="9.2" fill="#7EA690"/>
<rect x="405.95" y="473.2" width="11.9" height="5.8" fill="#4B88C6"/>
<rect x="405.95" y="479" width="11.9" height="4.1" fill="#8F8BFB"/>
<rect x="425.64" y="375.2" width="11.9" height="14.8" fill="#EE776E"/>
<rect x="425.64" y="390" width="11.9" height="8.1" fill="#D9383F"/>
<rect x="425.64" y="398.1" width="11.9" height="65.9" fill="#BA646E"/>
<rect x="425.64" y="464" width="11.9" height="9.2" fill="#7EA690"/>
<rect x="425.64" y="473.2" width="11.9" height="5.8" fill="#4B88C6"/>
<rect x="425.64" y="479" width="11.9" height="4.1" fill="#8F8BFB"/>
<rect x="380.5" y="370.5" width="63" height="118" fill="none" stroke="#606060" stroke-width="1.0"/>
<line x1="376.1" y1="483.1" x2="380.5" y2="483.1" stroke="#444444" stroke-width="1.2"/>
<text x="373.1" y="487.5" class="tk">0</text>
<line x1="376.1" y1="454.88" x2="380.5" y2="454.88" stroke="#444444" stroke-width="1.2"/>
<text x="373.1" y="459.27" class="tk">100</text>
<line x1="376.1" y1="426.65" x2="380.5" y2="426.65" stroke="#444444" stroke-width="1.2"/>
<text x="373.1" y="431.05" class="tk">200</text>
<line x1="376.1" y1="398.43" x2="380.5" y2="398.43" stroke="#444444" stroke-width="1.2"/>
<text x="373.1" y="402.82" class="tk">300</text>
<line x1="376.1" y1="370.2" x2="380.5" y2="370.2" stroke="#444444" stroke-width="1.2"/>
<text x="373.1" y="374.6" class="tk">400</text>
<text x="412" y="363" class="tt">Japan</text>
<line x1="486.5" y1="483.1" x2="549.2" y2="483.1" stroke="#EBEBEB" stroke-width="1.07"/>
<line x1="486.5" y1="451.9" x2="549.2" y2="451.9" stroke="#EBEBEB" stroke-width="1.07"/>
<line x1="486.5" y1="420.7" x2="549.2" y2="420.7" stroke="#EBEBEB" stroke-width="1.07"/>
<line x1="486.5" y1="389.5" x2="549.2" y2="389.5" stroke="#EBEBEB" stroke-width="1.07"/>
<line x1="498.16" y1="370.5" x2="498.16" y2="488.5" stroke="#E0E0E0" stroke-width="1"/>
<line x1="517.75" y1="370.5" x2="517.75" y2="488.5" stroke="#E0E0E0" stroke-width="1"/>
<line x1="537.34" y1="370.5" x2="537.34" y2="488.5" stroke="#E0E0E0" stroke-width="1"/>
<rect x="492.21" y="375.2" width="11.9" height="1.6" fill="#EE776E"/>
<rect x="492.21" y="376.8" width="11.9" height="19.7" fill="#D9383F"/>
<rect x="492.21" y="396.5" width="11.9" height="4.3" fill="#BA646E"/>
<rect x="492.21" y="400.8" width="11.9" height="1.2" fill="#7EA690"/>
<rect x="492.21" y="402" width="11.9" height="4.9" fill="#C194B8"/>
<rect x="492.21" y="406.9" width="11.9" height="16" fill="#9C8ABC"/>
<rect x="492.21" y="422.9" width="11.9" height="35" fill="#2D587E"/>
<rect x="492.21" y="457.9" width="11.9" height="21.1" fill="#4B88C6"/>
<rect x="492.21" y="479" width="11.9" height="3.2" fill="#DFB577"/>
<rect x="492.21" y="482.2" width="11.9" height="0.9" fill="#8F8BFB"/>
<rect x="511.8" y="375.2" width="11.9" height="1.9" fill="#EE776E"/>
<rect x="511.8" y="377.1" width="11.9" height="15.8" fill="#D9383F"/>
<rect x="511.8" y="392.9" width="11.9" height="4.1" fill="#BA646E"/>
<rect x="511.8" y="397" width="11.9" height="1.5" fill="#7EA690"/>
<rect x="511.8" y="398.5" width="11.9" height="5.3" fill="#C194B8"/>
<rect x="511.8" y="403.8" width="11.9" height="16.1" fill="#9C8ABC"/>
<rect x="511.8" y="419.9" width="11.9" height="34.9" fill="#2D587E"/>
<rect x="511.8" y="454.8" width="11.9" height="24.2" fill="#4B88C6"/>
<rect x="511.8" y="479" width="11.9" height="3.2" fill="#DFB577"/>
<rect x="511.8" y="482.2" width="11.9" height="0.9" fill="#8F8BFB"/>
<rect x="531.39" y="375.2" width="11.9" height="0.4" fill="#EE776E"/>
<rect x="531.39" y="375.6" width="11.9" height="13.3" fill="#D9383F"/>
<rect x="531.39" y="388.9" width="11.9" height="3.9" fill="#BA646E"/>
<rect x="531.39" y="392.8" width="11.9" height="1.8" fill="#7EA690"/>
<rect x="531.39" y="394.6" width="11.9" height="7.2" fill="#C194B8"/>
<rect x="531.39" y="401.8" width="11.9" height="14.6" fill="#9C8ABC"/>
<rect x="531.39" y="416.4" width="11.9" height="35.4" fill="#2D587E"/>
<rect x="531.39" y="451.8" width="11.9" height="27.2" fill="#4B88C6"/>
<rect x="531.39" y="479" width="11.9" height="3.2" fill="#DFB577"/>
<rect x="531.39" y="482.2" width="11.9" height="0.9" fill="#8F8BFB"/>
<rect x="486.5" y="370.5" width="62.7" height="118" fill="none" stroke="#606060" stroke-width="1.0"/>
<line x1="482.1" y1="483.1" x2="486.5" y2="483.1" stroke="#444444" stroke-width="1.2"/>
<text x="479.1" y="487.5" class="tk">0</text>
<line x1="482.1" y1="451.9" x2="486.5" y2="451.9" stroke="#444444" stroke-width="1.2"/>
<text x="479.1" y="456.3" class="tk">250</text>
<line x1="482.1" y1="420.7" x2="486.5" y2="420.7" stroke="#444444" stroke-width="1.2"/>
<text x="479.1" y="425.1" class="tk">500</text>
<line x1="482.1" y1="389.5" x2="486.5" y2="389.5" stroke="#444444" stroke-width="1.2"/>
<text x="479.1" y="393.9" class="tk">750</text>
<text x="517.85" y="363" class="tt">Pakistan</text>
<line x1="63.5" y1="629.2" x2="126" y2="629.2" stroke="#EBEBEB" stroke-width="1.07"/>
<line x1="63.5" y1="602.55" x2="126" y2="602.55" stroke="#EBEBEB" stroke-width="1.07"/>
<line x1="63.5" y1="575.9" x2="126" y2="575.9" stroke="#EBEBEB" stroke-width="1.07"/>
<line x1="63.5" y1="549.25" x2="126" y2="549.25" stroke="#EBEBEB" stroke-width="1.07"/>
<line x1="63.5" y1="522.6" x2="126" y2="522.6" stroke="#EBEBEB" stroke-width="1.07"/>
<line x1="75.12" y1="516.5" x2="75.12" y2="634.5" stroke="#E0E0E0" stroke-width="1"/>
<line x1="94.65" y1="516.5" x2="94.65" y2="634.5" stroke="#E0E0E0" stroke-width="1"/>
<line x1="114.18" y1="516.5" x2="114.18" y2="634.5" stroke="#E0E0E0" stroke-width="1"/>
<rect x="69.17" y="521.9" width="11.9" height="10" fill="#EE776E"/>
<rect x="69.17" y="531.9" width="11.9" height="16.2" fill="#D9383F"/>
<rect x="69.17" y="548.1" width="11.9" height="33.8" fill="#BA646E"/>
<rect x="69.17" y="581.9" width="11.9" height="8.3" fill="#7EA690"/>
<rect x="69.17" y="590.2" width="11.9" height="0.7" fill="#C194B8"/>
<rect x="69.17" y="590.9" width="11.9" height="35.9" fill="#4B88C6"/>
<rect x="69.17" y="626.8" width="11.9" height="2.4" fill="#8F8BFB"/>
<rect x="88.7" y="521.9" width="11.9" height="2.2" fill="#EE776E"/>
<rect x="88.7" y="524.1" width="11.9" height="15.8" fill="#D9383F"/>
<rect x="88.7" y="539.9" width="11.9" height="39" fill="#BA646E"/>
<rect x="88.7" y="578.9" width="11.9" height="9.2" fill="#7EA690"/>
<rect x="88.7" y="588.1" width="11.9" height="0.7" fill="#C194B8"/>
<rect x="88.7" y="588.8" width="11.9" height="38" fill="#4B88C6"/>
<rect x="88.7" y="626.8" width="11.9" height="2.4" fill="#8F8BFB"/>
<rect x="108.23" y="522" width="11.9" height="0.3" fill="#EE776E"/>
<rect x="108.23" y="522.3" width="11.9" height="13.6" fill="#D9383F"/>
<rect x="108.23" y="535.9" width="11.9" height="41.6" fill="#BA646E"/>
<rect x="108.23" y="577.5" width="11.9" height="9.2" fill="#7EA690"/>
<rect x="108.23" y="586.7" width="11.9" height="0.7" fill="#C194B8"/>
<rect x="108.23" y="587.4" width="11.9" height="39.4" fill="#4B88C6"/>
<rect x="108.23" y="626.8" width="11.9" height="2.4" fill="#8F8BFB"/>
<rect x="63.5" y="516.5" width="62.5" height="118" fill="none" stroke="#606060" stroke-width="1.0"/>
<line x1="59.1" y1="629.2" x2="63.5" y2="629.2" stroke="#444444" stroke-width="1.2"/>
<text x="56.1" y="633.6" class="tk">0</text>
<line x1="59.1" y1="602.55" x2="63.5" y2="602.55" stroke="#444444" stroke-width="1.2"/>
<text x="56.1" y="606.95" class="tk">25</text>
<line x1="59.1" y1="575.9" x2="63.5" y2="575.9" stroke="#444444" stroke-width="1.2"/>
<text x="56.1" y="580.3" class="tk">50</text>
<line x1="59.1" y1="549.25" x2="63.5" y2="549.25" stroke="#444444" stroke-width="1.2"/>
<text x="56.1" y="553.65" class="tk">75</text>
<line x1="59.1" y1="522.6" x2="63.5" y2="522.6" stroke="#444444" stroke-width="1.2"/>
<text x="56.1" y="527" class="tk">100</text>
<text x="94.75" y="509" class="tt">South Korea</text>
<line x1="75.12" y1="634.5" x2="75.12" y2="638.9" stroke="#444444" stroke-width="1.3"/>
<text transform="translate(79.12,641.4) rotate(-90)" class="xl">CP</text>
<line x1="94.65" y1="634.5" x2="94.65" y2="638.9" stroke="#444444" stroke-width="1.3"/>
<text transform="translate(98.65,641.4) rotate(-90)" class="xl">FT</text>
<line x1="114.18" y1="634.5" x2="114.18" y2="638.9" stroke="#444444" stroke-width="1.3"/>
<text transform="translate(118.18,641.4) rotate(-90)" class="xl">FT-SDG</text>
<line x1="169.2" y1="629.2" x2="231.5" y2="629.2" stroke="#EBEBEB" stroke-width="1.07"/>
<line x1="169.2" y1="590.75" x2="231.5" y2="590.75" stroke="#EBEBEB" stroke-width="1.07"/>
<line x1="169.2" y1="552.3" x2="231.5" y2="552.3" stroke="#EBEBEB" stroke-width="1.07"/>
<line x1="180.78" y1="516.5" x2="180.78" y2="634.5" stroke="#E0E0E0" stroke-width="1"/>
<line x1="200.25" y1="516.5" x2="200.25" y2="634.5" stroke="#E0E0E0" stroke-width="1"/>
<line x1="219.72" y1="516.5" x2="219.72" y2="634.5" stroke="#E0E0E0" stroke-width="1"/>
<rect x="174.83" y="521.8" width="11.9" height="0.4" fill="#EE776E"/>
<rect x="174.83" y="522.2" width="11.9" height="7.8" fill="#D9383F"/>
<rect x="174.83" y="530" width="11.9" height="0.4" fill="#BA646E"/>
<rect x="174.83" y="530.4" width="11.9" height="11.7" fill="#7EA690"/>
<rect x="174.83" y="542.1" width="11.9" height="0.7" fill="#C194B8"/>
<rect x="174.83" y="542.8" width="11.9" height="69.1" fill="#9C8ABC"/>
<rect x="174.83" y="611.9" width="11.9" height="3.9" fill="#2D587E"/>
<rect x="174.83" y="615.8" width="11.9" height="12" fill="#4B88C6"/>
<rect x="174.83" y="627.8" width="11.9" height="1" fill="#DFB577"/>
<rect x="174.83" y="628.8" width="11.9" height="0.4" fill="#8F8BFB"/>
<rect x="194.3" y="521.8" width="11.9" height="5.9" fill="#D9383F"/>
<rect x="194.3" y="527.7" width="11.9" height="0.3" fill="#BA646E"/>
<rect x="194.3" y="528" width="11.9" height="12.2" fill="#7EA690"/>
<rect x="194.3" y="540.2" width="11.9" height="0.7" fill="#C194B8"/>
<rect x="194.3" y="540.9" width="11.9" height="71" fill="#9C8ABC"/>
<rect x="194.3" y="611.9" width="11.9" height="3.9" fill="#2D587E"/>
<rect x="194.3" y="615.8" width="11.9" height="12" fill="#4B88C6"/>
<rect x="194.3" y="627.8" width="11.9" height="1" fill="#DFB577"/>
<rect x="194.3" y="628.8" width="11.9" height="0.4" fill="#8F8BFB"/>
<rect x="213.77" y="521.8" width="11.9" height="4.9" fill="#D9383F"/>
<rect x="213.77" y="526.7" width="11.9" height="0.3" fill="#BA646E"/>
<rect x="213.77" y="527" width="11.9" height="12.3" fill="#7EA690"/>
<rect x="213.77" y="539.3" width="11.9" height="0.7" fill="#C194B8"/>
<rect x="213.77" y="540" width="11.9" height="71.6" fill="#9C8ABC"/>
<rect x="213.77" y="611.6" width="11.9" height="4.2" fill="#2D587E"/>
<rect x="213.77" y="615.8" width="11.9" height="12" fill="#4B88C6"/>
<rect x="213.77" y="627.8" width="11.9" height="1" fill="#DFB577"/>
<rect x="213.77" y="628.8" width="11.9" height="0.4" fill="#8F8BFB"/>
<rect x="169.2" y="516.5" width="62.3" height="118" fill="none" stroke="#606060" stroke-width="1.0"/>
<line x1="164.8" y1="629.2" x2="169.2" y2="629.2" stroke="#444444" stroke-width="1.2"/>
<text x="161.8" y="633.6" class="tk">0</text>
<line x1="164.8" y1="590.75" x2="169.2" y2="590.75" stroke="#444444" stroke-width="1.2"/>
<text x="161.8" y="595.15" class="tk">2,000</text>
<line x1="164.8" y1="552.3" x2="169.2" y2="552.3" stroke="#444444" stroke-width="1.2"/>
<text x="161.8" y="556.7" class="tk">4,000</text>
<text x="200.35" y="509" class="tt">Central Asia</text>
<line x1="180.78" y1="634.5" x2="180.78" y2="638.9" stroke="#444444" stroke-width="1.3"/>
<text transform="translate(184.78,641.4) rotate(-90)" class="xl">CP</text>
<line x1="200.25" y1="634.5" x2="200.25" y2="638.9" stroke="#444444" stroke-width="1.3"/>
<text transform="translate(204.25,641.4) rotate(-90)" class="xl">FT</text>
<line x1="219.72" y1="634.5" x2="219.72" y2="638.9" stroke="#444444" stroke-width="1.3"/>
<text transform="translate(223.72,641.4) rotate(-90)" class="xl">FT-SDG</text>
<line x1="274.8" y1="629.2" x2="337.5" y2="629.2" stroke="#EBEBEB" stroke-width="1.07"/>
<line x1="274.8" y1="608.28" x2="337.5" y2="608.28" stroke="#EBEBEB" stroke-width="1.07"/>
<line x1="274.8" y1="587.36" x2="337.5" y2="587.36" stroke="#EBEBEB" stroke-width="1.07"/>
<line x1="274.8" y1="566.44" x2="337.5" y2="566.44" stroke="#EBEBEB" stroke-width="1.07"/>
<line x1="274.8" y1="545.52" x2="337.5" y2="545.52" stroke="#EBEBEB" stroke-width="1.07"/>
<line x1="274.8" y1="524.6" x2="337.5" y2="524.6" stroke="#EBEBEB" stroke-width="1.07"/>
<line x1="286.46" y1="516.5" x2="286.46" y2="634.5" stroke="#E0E0E0" stroke-width="1"/>
<line x1="306.05" y1="516.5" x2="306.05" y2="634.5" stroke="#E0E0E0" stroke-width="1"/>
<line x1="325.64" y1="516.5" x2="325.64" y2="634.5" stroke="#E0E0E0" stroke-width="1"/>
<rect x="280.51" y="521.9" width="11.9" height="0.4" fill="#EE776E"/>
<rect x="280.51" y="522.3" width="11.9" height="8.5" fill="#D9383F"/>
<rect x="280.51" y="530.8" width="11.9" height="4" fill="#7EA690"/>
<rect x="280.51" y="534.8" width="11.9" height="0.7" fill="#C194B8"/>
<rect x="280.51" y="535.5" width="11.9" height="40.7" fill="#9C8ABC"/>
<rect x="280.51" y="576.2" width="11.9" height="35.7" fill="#2D587E"/>
<rect x="280.51" y="611.9" width="11.9" height="17.1" fill="#4B88C6"/>
<rect x="280.51" y="629" width="11.9" height="0.2" fill="#8F8BFB"/>
<rect x="300.1" y="521.9" width="11.9" height="8.1" fill="#D9383F"/>
<rect x="300.1" y="530" width="11.9" height="4.1" fill="#7EA690"/>
<rect x="300.1" y="534.1" width="11.9" height="0.7" fill="#C194B8"/>
<rect x="300.1" y="534.8" width="11.9" height="41.4" fill="#9C8ABC"/>
<rect x="300.1" y="576.2" width="11.9" height="35.7" fill="#2D587E"/>
<rect x="300.1" y="611.9" width="11.9" height="17.1" fill="#4B88C6"/>
<rect x="300.1" y="629" width="11.9" height="0.2" fill="#8F8BFB"/>
<rect x="319.69" y="521.9" width="11.9" height="6.6" fill="#D9383F"/>
<rect x="319.69" y="528.5" width="11.9" height="4.3" fill="#7EA690"/>
<rect x="319.69" y="532.8" width="11.9" height="0.7" fill="#C194B8"/>
<rect x="319.69" y="533.5" width="11.9" height="42.7" fill="#9C8ABC"/>
<rect x="319.69" y="576.2" width="11.9" height="35.7" fill="#2D587E"/>
<rect x="319.69" y="611.9" width="11.9" height="17.1" fill="#4B88C6"/>
<rect x="319.69" y="629" width="11.9" height="0.2" fill="#8F8BFB"/>
<rect x="274.8" y="516.5" width="62.7" height="118" fill="none" stroke="#606060" stroke-width="1.0"/>
<line x1="270.4" y1="629.2" x2="274.8" y2="629.2" stroke="#444444" stroke-width="1.2"/>
<text x="267.4" y="633.6" class="tk">0</text>
<line x1="270.4" y1="608.28" x2="274.8" y2="608.28" stroke="#444444" stroke-width="1.2"/>
<text x="267.4" y="612.68" class="tk">1,000</text>
<line x1="270.4" y1="587.36" x2="274.8" y2="587.36" stroke="#444444" stroke-width="1.2"/>
<text x="267.4" y="591.76" class="tk">2,000</text>
<line x1="270.4" y1="566.44" x2="274.8" y2="566.44" stroke="#444444" stroke-width="1.2"/>
<text x="267.4" y="570.84" class="tk">3,000</text>
<line x1="270.4" y1="545.52" x2="274.8" y2="545.52" stroke="#444444" stroke-width="1.2"/>
<text x="267.4" y="549.92" class="tk">4,000</text>
<line x1="270.4" y1="524.6" x2="274.8" y2="524.6" stroke="#444444" stroke-width="1.2"/>
<text x="267.4" y="529" class="tk">5,000</text>
<text x="306.15" y="509" class="tt">Middle East</text>
<line x1="286.46" y1="634.5" x2="286.46" y2="638.9" stroke="#444444" stroke-width="1.3"/>
<text transform="translate(290.46,641.4) rotate(-90)" class="xl">CP</text>
<line x1="306.05" y1="634.5" x2="306.05" y2="638.9" stroke="#444444" stroke-width="1.3"/>
<text transform="translate(310.05,641.4) rotate(-90)" class="xl">FT</text>
<line x1="325.64" y1="634.5" x2="325.64" y2="638.9" stroke="#444444" stroke-width="1.3"/>
<text transform="translate(329.64,641.4) rotate(-90)" class="xl">FT-SDG</text>
<line x1="380.5" y1="629.2" x2="443.5" y2="629.2" stroke="#EBEBEB" stroke-width="1.07"/>
<line x1="380.5" y1="602.98" x2="443.5" y2="602.98" stroke="#EBEBEB" stroke-width="1.07"/>
<line x1="380.5" y1="576.75" x2="443.5" y2="576.75" stroke="#EBEBEB" stroke-width="1.07"/>
<line x1="380.5" y1="550.53" x2="443.5" y2="550.53" stroke="#EBEBEB" stroke-width="1.07"/>
<line x1="380.5" y1="524.3" x2="443.5" y2="524.3" stroke="#EBEBEB" stroke-width="1.07"/>
<line x1="392.21" y1="516.5" x2="392.21" y2="634.5" stroke="#E0E0E0" stroke-width="1"/>
<line x1="411.9" y1="516.5" x2="411.9" y2="634.5" stroke="#E0E0E0" stroke-width="1"/>
<line x1="431.59" y1="516.5" x2="431.59" y2="634.5" stroke="#E0E0E0" stroke-width="1"/>
<rect x="386.26" y="521.8" width="11.9" height="0.7" fill="#EE776E"/>
<rect x="386.26" y="522.5" width="11.9" height="17.5" fill="#D9383F"/>
<rect x="386.26" y="540" width="11.9" height="19.3" fill="#BA646E"/>
<rect x="386.26" y="559.3" width="11.9" height="7.7" fill="#7EA690"/>
<rect x="386.26" y="567" width="11.9" height="3.9" fill="#C194B8"/>
<rect x="386.26" y="570.9" width="11.9" height="35.2" fill="#9C8ABC"/>
<rect x="386.26" y="606.1" width="11.9" height="7.7" fill="#2D587E"/>
<rect x="386.26" y="613.8" width="11.9" height="13.1" fill="#4B88C6"/>
<rect x="386.26" y="626.9" width="11.9" height="2.1" fill="#DFB577"/>
<rect x="386.26" y="629" width="11.9" height="0.2" fill="#8F8BFB"/>
<rect x="405.95" y="521.8" width="11.9" height="12.2" fill="#D9383F"/>
<rect x="405.95" y="534" width="11.9" height="18.8" fill="#BA646E"/>
<rect x="405.95" y="552.8" width="11.9" height="10" fill="#7EA690"/>
<rect x="405.95" y="562.8" width="11.9" height="4.4" fill="#C194B8"/>
<rect x="405.95" y="567.2" width="11.9" height="37.9" fill="#9C8ABC"/>
<rect x="405.95" y="605.1" width="11.9" height="6.8" fill="#2D587E"/>
<rect x="405.95" y="611.9" width="11.9" height="15" fill="#4B88C6"/>
<rect x="405.95" y="626.9" width="11.9" height="2.1" fill="#DFB577"/>
<rect x="405.95" y="629" width="11.9" height="0.2" fill="#8F8BFB"/>
<rect x="425.64" y="521.8" width="11.9" height="11.3" fill="#D9383F"/>
<rect x="425.64" y="533.1" width="11.9" height="19.7" fill="#BA646E"/>
<rect x="425.64" y="552.8" width="11.9" height="10" fill="#7EA690"/>
<rect x="425.64" y="562.8" width="11.9" height="4.9" fill="#C194B8"/>
<rect x="425.64" y="567.7" width="11.9" height="37.4" fill="#9C8ABC"/>
<rect x="425.64" y="605.1" width="11.9" height="6.8" fill="#2D587E"/>
<rect x="425.64" y="611.9" width="11.9" height="15" fill="#4B88C6"/>
<rect x="425.64" y="626.9" width="11.9" height="2.1" fill="#DFB577"/>
<rect x="425.64" y="629" width="11.9" height="0.2" fill="#8F8BFB"/>
<rect x="380.5" y="516.5" width="63" height="118" fill="none" stroke="#606060" stroke-width="1.0"/>
<line x1="376.1" y1="629.2" x2="380.5" y2="629.2" stroke="#444444" stroke-width="1.2"/>
<text x="373.1" y="633.6" class="tk">0</text>
<line x1="376.1" y1="602.98" x2="380.5" y2="602.98" stroke="#444444" stroke-width="1.2"/>
<text x="373.1" y="607.38" class="tk">250</text>
<line x1="376.1" y1="576.75" x2="380.5" y2="576.75" stroke="#444444" stroke-width="1.2"/>
<text x="373.1" y="581.15" class="tk">500</text>
<line x1="376.1" y1="550.53" x2="380.5" y2="550.53" stroke="#444444" stroke-width="1.2"/>
<text x="373.1" y="554.93" class="tk">750</text>
<line x1="376.1" y1="524.3" x2="380.5" y2="524.3" stroke="#444444" stroke-width="1.2"/>
<text x="373.1" y="528.7" class="tk">1,000</text>
<text x="412" y="509" class="tt">South Asia</text>
<line x1="392.21" y1="634.5" x2="392.21" y2="638.9" stroke="#444444" stroke-width="1.3"/>
<text transform="translate(396.21,641.4) rotate(-90)" class="xl">CP</text>
<line x1="411.9" y1="634.5" x2="411.9" y2="638.9" stroke="#444444" stroke-width="1.3"/>
<text transform="translate(415.9,641.4) rotate(-90)" class="xl">FT</text>
<line x1="431.59" y1="634.5" x2="431.59" y2="638.9" stroke="#444444" stroke-width="1.3"/>
<text transform="translate(435.59,641.4) rotate(-90)" class="xl">FT-SDG</text>
<line x1="486.5" y1="629.2" x2="549.2" y2="629.2" stroke="#EBEBEB" stroke-width="1.07"/>
<line x1="486.5" y1="595.2" x2="549.2" y2="595.2" stroke="#EBEBEB" stroke-width="1.07"/>
<line x1="486.5" y1="561.2" x2="549.2" y2="561.2" stroke="#EBEBEB" stroke-width="1.07"/>
<line x1="486.5" y1="527.2" x2="549.2" y2="527.2" stroke="#EBEBEB" stroke-width="1.07"/>
<line x1="498.16" y1="516.5" x2="498.16" y2="634.5" stroke="#E0E0E0" stroke-width="1"/>
<line x1="517.75" y1="516.5" x2="517.75" y2="634.5" stroke="#E0E0E0" stroke-width="1"/>
<line x1="537.34" y1="516.5" x2="537.34" y2="634.5" stroke="#E0E0E0" stroke-width="1"/>
<rect x="492.21" y="521.9" width="11.9" height="2.2" fill="#EE776E"/>
<rect x="492.21" y="524.1" width="11.9" height="26.9" fill="#D9383F"/>
<rect x="492.21" y="551" width="11.9" height="61.3" fill="#BA646E"/>
<rect x="492.21" y="612.3" width="11.9" height="12.8" fill="#7EA690"/>
<rect x="492.21" y="625.1" width="11.9" height="1.1" fill="#C194B8"/>
<rect x="492.21" y="626.2" width="11.9" height="1.4" fill="#9C8ABC"/>
<rect x="492.21" y="627.6" width="11.9" height="0.8" fill="#4B88C6"/>
<rect x="492.21" y="628.4" width="11.9" height="0.8" fill="#8F8BFB"/>
<rect x="511.8" y="521.9" width="11.9" height="1.7" fill="#EE776E"/>
<rect x="511.8" y="523.6" width="11.9" height="23" fill="#D9383F"/>
<rect x="511.8" y="546.6" width="11.9" height="65.7" fill="#BA646E"/>
<rect x="511.8" y="612.3" width="11.9" height="13.7" fill="#7EA690"/>
<rect x="511.8" y="626" width="11.9" height="1" fill="#C194B8"/>
<rect x="511.8" y="627" width="11.9" height="1" fill="#9C8ABC"/>
<rect x="511.8" y="628" width="11.9" height="0.6" fill="#4B88C6"/>
<rect x="511.8" y="628.6" width="11.9" height="0.6" fill="#8F8BFB"/>
<rect x="531.39" y="521.9" width="11.9" height="0.4" fill="#EE776E"/>
<rect x="531.39" y="522.3" width="11.9" height="23.5" fill="#D9383F"/>
<rect x="531.39" y="545.8" width="11.9" height="66.1" fill="#BA646E"/>
<rect x="531.39" y="611.9" width="11.9" height="13.6" fill="#7EA690"/>
<rect x="531.39" y="625.5" width="11.9" height="1.1" fill="#C194B8"/>
<rect x="531.39" y="626.6" width="11.9" height="1.2" fill="#9C8ABC"/>
<rect x="531.39" y="627.8" width="11.9" height="0.7" fill="#4B88C6"/>
<rect x="531.39" y="628.5" width="11.9" height="0.7" fill="#8F8BFB"/>
<rect x="486.5" y="516.5" width="62.7" height="118" fill="none" stroke="#606060" stroke-width="1.0"/>
<line x1="482.1" y1="629.2" x2="486.5" y2="629.2" stroke="#444444" stroke-width="1.2"/>
<text x="479.1" y="633.6" class="tk">0</text>
<line x1="482.1" y1="595.2" x2="486.5" y2="595.2" stroke="#444444" stroke-width="1.2"/>
<text x="479.1" y="599.6" class="tk">1,000</text>
<line x1="482.1" y1="561.2" x2="486.5" y2="561.2" stroke="#444444" stroke-width="1.2"/>
<text x="479.1" y="565.6" class="tk">2,000</text>
<line x1="482.1" y1="527.2" x2="486.5" y2="527.2" stroke="#444444" stroke-width="1.2"/>
<text x="479.1" y="531.6" class="tk">3,000</text>
<text x="517.85" y="509" class="tt">Southeast Asia</text>
<line x1="498.16" y1="634.5" x2="498.16" y2="638.9" stroke="#444444" stroke-width="1.3"/>
<text transform="translate(502.16,641.4) rotate(-90)" class="xl">CP</text>
<line x1="517.75" y1="634.5" x2="517.75" y2="638.9" stroke="#444444" stroke-width="1.3"/>
<text transform="translate(521.75,641.4) rotate(-90)" class="xl">FT</text>
<line x1="537.34" y1="634.5" x2="537.34" y2="638.9" stroke="#444444" stroke-width="1.3"/>
<text transform="translate(541.34,641.4) rotate(-90)" class="xl">FT-SDG</text>
<rect x="573.1" y="102.9" width="22.5" height="22.2" fill="#EBD64B"/>
<text x="604.2" y="118" class="lg">Agriculture</text>
<rect x="573.1" y="126.99" width="22.5" height="22.2" fill="#7399DD"/>
<text x="604.2" y="142.09" class="lg">Biomass</text>
<rect x="573.1" y="151.08" width="22.5" height="22.2" fill="#7F8791"/>
<text x="604.2" y="166.18" class="lg">DAC</text>
<rect x="573.1" y="175.17" width="22.5" height="22.2" fill="#C6A87C"/>
<text x="604.2" y="190.27" class="lg">Electricity</text>
<rect x="573.1" y="199.26" width="22.5" height="22.2" fill="#EE6E46"/>
<text x="604.2" y="214.36" class="lg">Industry</text>
<rect x="573.1" y="223.35" width="22.5" height="22.2" fill="#D3E8A3"/>
<text x="604.2" y="238.45" class="lg">Municipal Water</text>
<rect x="574.1" y="382.7" width="22.6" height="22.0" fill="#EE776E"/>
<text x="605.1" y="397.8" class="lg">biomass</text>
<rect x="574.1" y="406.83" width="22.6" height="22.0" fill="#D9383F"/>
<text x="605.1" y="421.93" class="lg">crops</text>
<rect x="574.1" y="430.96" width="22.6" height="22.0" fill="#BA646E"/>
<text x="605.1" y="446.06" class="lg">forest</text>
<rect x="574.1" y="455.09" width="22.6" height="22.0" fill="#7EA690"/>
<text x="605.1" y="470.19" class="lg">grass</text>
<rect x="574.1" y="479.22" width="22.6" height="22.0" fill="#C194B8"/>
<text x="605.1" y="494.32" class="lg">otherarable</text>
<rect x="574.1" y="503.35" width="22.6" height="22.0" fill="#9C8ABC"/>
<text x="605.1" y="518.45" class="lg">pasture</text>
<rect x="574.1" y="527.48" width="22.6" height="22.0" fill="#2D587E"/>
<text x="605.1" y="542.58" class="lg">rock and desert</text>
<rect x="574.1" y="551.61" width="22.6" height="22.0" fill="#4B88C6"/>
<text x="605.1" y="566.71" class="lg">shrubs</text>
<rect x="574.1" y="575.74" width="22.6" height="22.0" fill="#DFB577"/>
<text x="605.1" y="590.84" class="lg">tundra</text>
<rect x="574.1" y="599.87" width="22.6" height="22.0" fill="#8F8BFB"/>
<text x="605.1" y="614.97" class="lg">urban</text>
<text x="0.4" y="11.1" class="pl">a</text>
<text x="1.0" y="362.6" class="pl">b</text>
<text transform="translate(18.1,174.1) rotate(-90)" class="at">water consumption (km<tspan class="sup" dy="-7.6">3</tspan><tspan dy="7.6">)</tspan></text>
<text transform="translate(18.1,501.6) rotate(-90)" class="at">land use allocation (thousand km<tspan class="sup" dy="-7.6">2</tspan><tspan dy="7.6">)</tspan></text>
</svg>
</body></html>
